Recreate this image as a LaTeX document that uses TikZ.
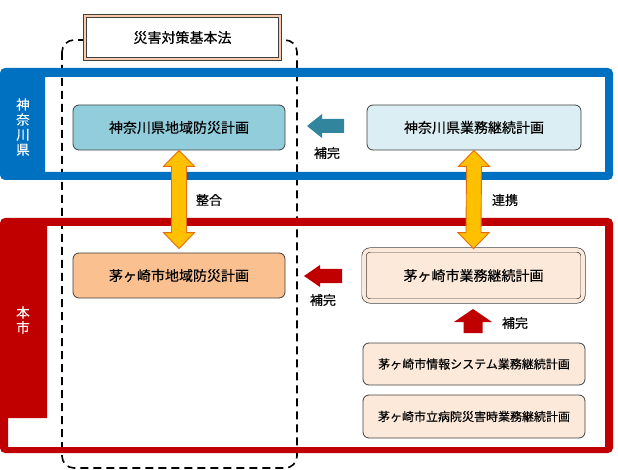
\documentclass[tikz,border=0pt]{standalone}
\usepackage{fontspec}
\setmainfont{Noto Sans CJK JP}[FakeBold=0.3]
\usetikzlibrary{calc}
\definecolor{kblue}{HTML}{0070C0}
\definecolor{cred}{HTML}{C00000}
\definecolor{tealarrow}{HTML}{31859C}
\definecolor{aqua}{HTML}{92CDDC}
\definecolor{aqualt}{HTML}{DAEEF3}
\definecolor{peach}{HTML}{FAC090}
\definecolor{peachlt}{HTML}{FDE9D9}
\definecolor{lawband}{HTML}{F8CBAD}
\definecolor{gold}{HTML}{FFC000}
\definecolor{goldedge}{HTML}{E46C0A}
\definecolor{edge}{HTML}{404040}
\begin{document}
\begin{tikzpicture}[x=1pt,y=-1pt,
  plan/.style={draw=edge, line width=0.8pt, rounded corners=6pt, text=black,
    font=\fontsize{14}{15}\selectfont, inner sep=0pt},
  sub/.style={plan, font=\fontsize{12}{13}\selectfont, fill=peachlt,
    minimum width=222pt},
  lbl/.style={font=\fontsize{13}{14}\selectfont, inner sep=0pt, text=black},
  vlbl/.style={text=white, font=\fontsize{13.5}{15}\selectfont, align=center, inner sep=0pt},
  dblarrow/.style={fill=gold, draw=goldedge, line width=0.9pt, line join=miter},
  dashbox/.style={line width=1.6pt, dash pattern=on 8pt off 5pt, rounded corners=12pt}
]
\useasboundingbox (0,0) rectangle (618,470);

% dashed frame of the basic law
\draw[dashbox] (62,40) rectangle (297,468);

% prefecture frame
\fill[kblue, even odd rule] [rounded corners=5pt] (0,68) rectangle (613,180)
  [sharp corners] (45,77) rectangle (605,172);
% city frame
\fill[cred, even odd rule] [rounded corners=5pt] (0,218) rectangle (613,453)
  [sharp corners] (47,226) -- (605,226) -- (605,447) -- (8,447) -- (8,418) -- (47,418) -- cycle;

\node[vlbl] (kname) at (23,127) {神\\奈\\川\\県};
\node[vlbl] (cname) at (23,320) {本\\市};

% law box
\node[plan, sharp corners, fill=white, double=lawband, double distance=2.6pt,
  line width=0.7pt, minimum width=195pt, minimum height=43pt] (law) at (182.5,37.5) {災害対策基本法};

% plans
\node[plan, fill=aqua, minimum width=212pt, minimum height=45pt] (kplan) at (179,127.5) {神奈川県地域防災計画};
\node[plan, fill=aqualt, minimum width=214pt, minimum height=45pt] (kbcp) at (474,127.5) {神奈川県業務継続計画};
\node[plan, fill=peach, minimum width=212pt, minimum height=45pt] (cplan) at (179,275.5) {茅ヶ崎市地域防災計画};
\node[plan, fill=peachlt, double=peachlt, double distance=3.6pt, line width=0.7pt,
  minimum width=219pt, minimum height=51pt] (cbcp) at (473.5,275.5) {茅ヶ崎市業務継続計画};
\node[sub, minimum height=42pt] (isbcp) at (474,364) {茅ヶ崎市情報システム業務継続計画};
\node[sub, minimum height=43pt] (hosp) at (474,416.5) {茅ヶ崎市立病院災害時業務継続計画};

% orange double arrows
\newcommand{\vdblarrow}[2]{%
  \filldraw[dblarrow] (#1) -- ++(15.5,16) -- ++(-8,0) -- ($(#2)+(7.5,-16)$) -- ++(8,0)
    -- (#2) -- ++(-15.5,-16) -- ++(8,0) -- ($(#1)+(-7.5,16)$) -- ++(-8,0) -- cycle;}
\coordinate (a1t) at (kplan.south);
\coordinate (a1b) at ($(cplan.north)+(0,-4)$);
\coordinate (a2t) at (kbcp.south);
\coordinate (a2b) at ($(cbcp.north)+(0,-1)$);
\vdblarrow{a1t}{a1b}
\vdblarrow{a2t}{a2b}
\node[lbl] (seigo) at (209,200) {整合};
\node[lbl] (renkei) at (505,200) {連携};

% teal arrow (prefecture)
\coordinate (ttip) at (307,126);
\fill[tealarrow] (ttip) -- ++(15,-12) -- ++(0,5) -- ++(22,0) -- ++(0,14) -- ++(-22,0) -- ++(0,5) -- cycle;
\node[lbl] (hokan1) at (327,153) {補完};

% red arrow left (city)
\coordinate (rtip) at (304,276);
\fill[cred] (rtip) -- ++(16,-11) -- ++(0,4) -- ++(22,0) -- ++(0,14) -- ++(-22,0) -- ++(0,4) -- cycle;
\node[lbl] (hokan2) at (323,300) {補完};

% red arrow up
\coordinate (utip) at (473,309);
\fill[cred] (utip) -- ++(19,13) -- ++(-9.5,0) -- ++(0,11) -- ++(-19,0) -- ++(0,-11) -- ++(-9.5,0) -- cycle;
\node[lbl] (hokan3) at (515,323) {補完};
\end{tikzpicture}
\end{document}
